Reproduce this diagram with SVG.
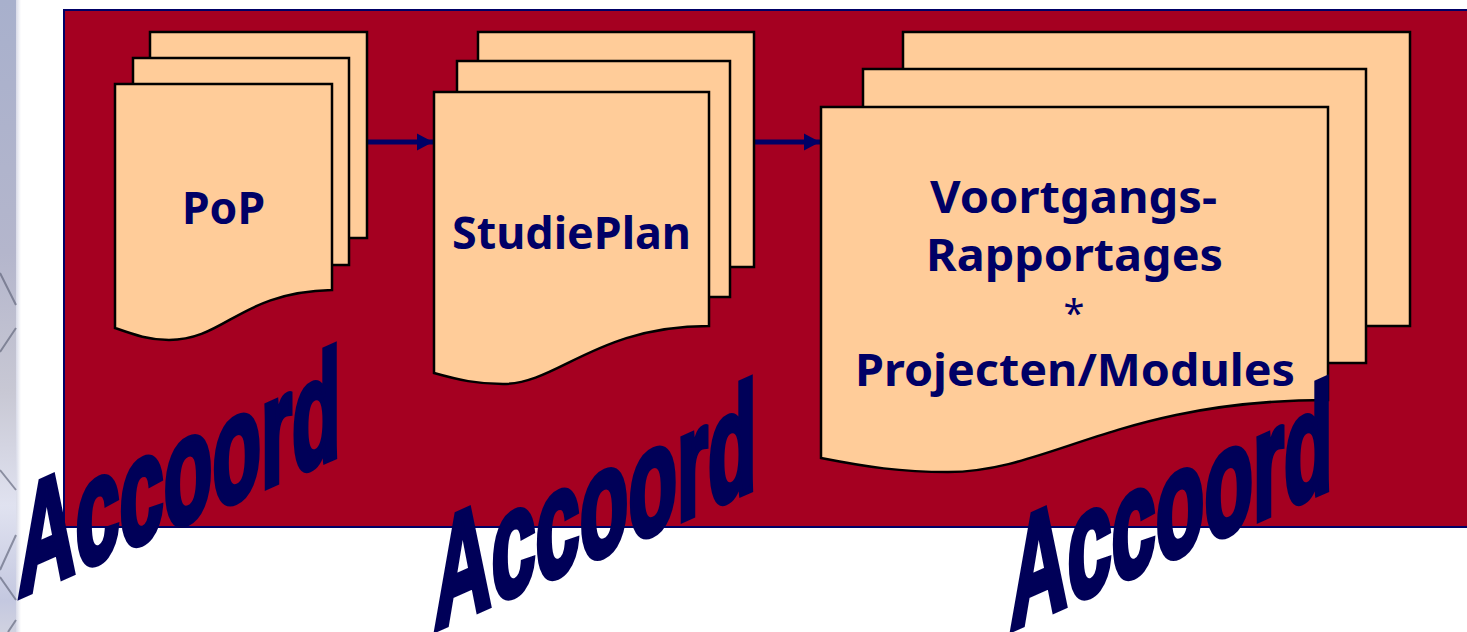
<svg xmlns="http://www.w3.org/2000/svg" width="1467" height="632" viewBox="0 0 1467 632">
<style>
.doc{fill:#ffcc99;stroke:#000;stroke-width:2.5}
.lbl{font-family:"Noto Sans","DejaVu Sans",sans-serif;font-weight:700;fill:#000066;text-anchor:middle;font-size:45px}
.star{font-weight:400;font-size:38px}
.acc{font-family:"Liberation Sans",Arial,sans-serif;font-weight:700;fill:#000058;stroke:#000058;stroke-width:4.500;font-size:100px}
.con{stroke:#000066;stroke-width:5;fill:none}
.deco{stroke:#555a70;stroke-width:2;fill:none;opacity:.6}
</style>
<defs>
<linearGradient id="strip" x1="0" x2="0" y1="0" y2="1"><stop offset="0" stop-color="#a8b0cc"/><stop offset=".4" stop-color="#b4b6cc"/><stop offset=".62" stop-color="#c8c8d4"/><stop offset=".8" stop-color="#e0e2f0"/><stop offset=".95" stop-color="#c4c8e0"/><stop offset="1" stop-color="#d0d2e0"/></linearGradient>
<linearGradient id="fade" x1="0" x2="1" y1="0" y2="0"><stop offset="0" stop-color="#d8dae8"/><stop offset="1" stop-color="#ffffff"/></linearGradient>
<marker id="ah" markerUnits="userSpaceOnUse" markerWidth="16" markerHeight="18" refX="16" refY="9" orient="auto"><path d="M0,0.5 L16,9 L0,17.5Z" fill="#000066"/></marker>
</defs>
<rect width="1467" height="632" fill="#fff"/>
<g id="backdrop">
<rect x="0" y="0" width="16" height="632" fill="url(#strip)"/>
<rect x="16" y="0" width="5" height="632" fill="url(#fade)"/>
<path class="deco" d="M0,273 L16,305 M16,328 L0,352 M0,470 L16,490 M16,535 L0,570 M0,577 L16,600 M16,620 L8,632"/>
</g>
<rect id="panel" x="64" y="10" width="1410" height="517" fill="#a50021" stroke="#000066" stroke-width="2"/>
<g id="connectors">
<path class="con" d="M367,142 H433" marker-end="url(#ah)"/>
<path class="con" d="M754,142 H820" marker-end="url(#ah)"/>
</g>
<g id="pop">
<path class="doc" d="M150,32 H367 V238 H150Z"/>
<path class="doc" d="M133,58 H349 V265 H133Z"/>
<path class="doc" d="M115,84 H332 V290 C240,292 225,340 169,340 C149,340 135,335 115,328Z"/>
<text class="lbl" x="223.500" y="224" textLength="83" lengthAdjust="spacingAndGlyphs">PoP</text>
</g>
<g id="studieplan">
<path class="doc" d="M478,32 H754 V267 H478Z"/>
<path class="doc" d="M457,61 H730 V297 H457Z"/>
<path class="doc" d="M434,92 H709 V326 C596,326 558,384 503,384 C477,384 459,380 434,373Z"/>
<text class="lbl" x="571.500" y="249" textLength="239" lengthAdjust="spacingAndGlyphs">StudiePlan</text>
</g>
<g id="voortgang">
<path class="doc" d="M903,32 H1410 V326 H903Z"/>
<path class="doc" d="M863,69 H1366 V363 H863Z"/>
<path class="doc" d="M821,107 H1328 V400 C1120,400 1050,472 948,472 C900,472 867,467 821,458Z"/>
<text class="lbl" x="1073.500" y="213" textLength="287" lengthAdjust="spacingAndGlyphs">Voortgangs-</text>
<text class="lbl" x="1074.500" y="271" textLength="297" lengthAdjust="spacingAndGlyphs">Rapportages</text>
<text class="lbl star" x="1074" y="327">*</text>
<text class="lbl" x="1075" y="386" textLength="440" lengthAdjust="spacingAndGlyphs">Projecten/Modules</text>
</g>
<g id="accoord1"><text class="acc" transform="matrix(.795,-.353,0,1.53,18,597)">Accoord</text></g>
<g id="accoord2"><text class="acc" transform="matrix(.795,-.353,0,1.53,434,630)">Accoord</text></g>
<g id="accoord3"><text class="acc" transform="matrix(.795,-.353,0,1.53,1010,630)">Accoord</text></g>
</svg>
